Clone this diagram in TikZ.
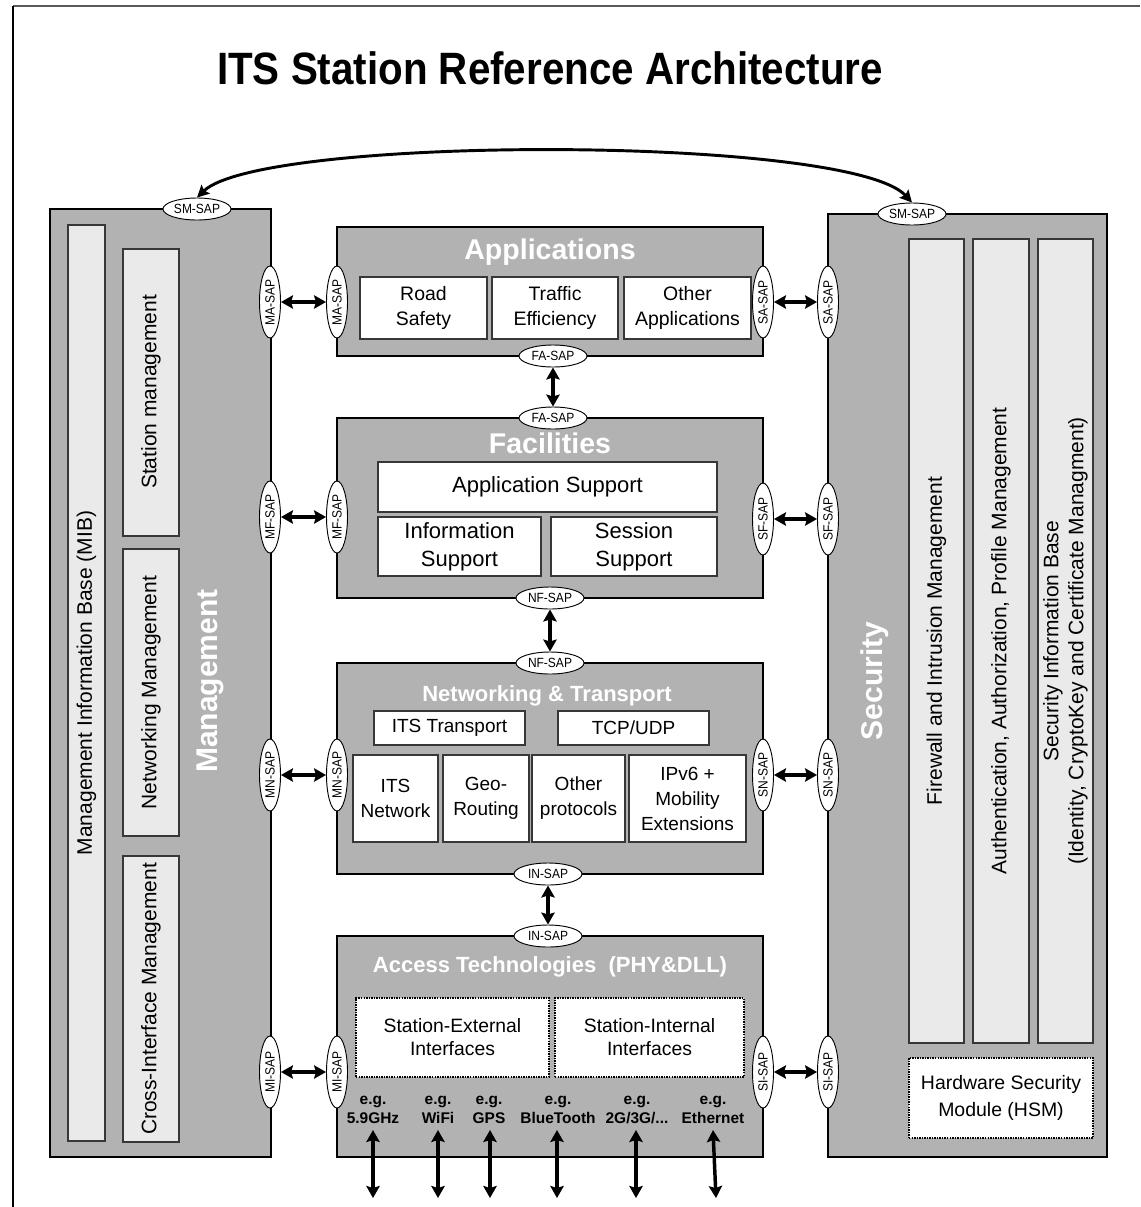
\documentclass[tikz,border=0pt]{standalone}
\usepackage{fontspec}
\setmainfont{Liberation Sans}
\usetikzlibrary{arrows.meta,shapes.geometric}
\definecolor{boxgray}{RGB}{178,178,178}
\definecolor{bargray}{RGB}{234,234,234}
\definecolor{edgegray}{RGB}{55,55,55}
\tikzset{
  rectat/.style n args={4}{minimum width={(#3-#1)*0.75pt}, minimum height={(#4-#2)*0.75pt}, at={({(#1+#3)/2},{(#2+#4)/2})}},
  layer/.style={draw=black, line width=1.8pt, fill=boxgray, inner sep=0pt},
  bar/.style={draw=edgegray, line width=0.8pt, fill=bargray, inner sep=0pt},
  wbox/.style={draw=edgegray, line width=0.9pt, fill=white, inner sep=0pt, align=center},
  dbox/.style={draw=black, line width=1.6pt, dash pattern=on 1.1pt off 0.8pt, fill=white, inner sep=0pt, align=center},
  sap/.style={ellipse, draw=black, line width=0.7pt, fill=white, inner sep=0pt, minimum width=51pt, minimum height=16.5pt, font=\fontsize{10}{11}\selectfont},
  vsap/.style={sap, rotate=90, minimum width=54pt, minimum height=15.75pt},
  dbl/.style={{Stealth[length=9pt,width=10pt,inset=1.5pt]}-{Stealth[length=9pt,width=10pt,inset=1.5pt]}, line width=2.6pt},
  curvearrow/.style={{Stealth[length=9pt,width=9pt,inset=1.5pt]}-{Stealth[length=9pt,width=9pt,inset=1.5pt]}, line width=2.2pt},
  bigtitle/.style={text=white, font=\fontsize{21.4}{24}\selectfont\bfseries},
  midtitle/.style={text=white, font=\fontsize{16.5}{19}\selectfont\bfseries},
  sidetitle/.style={text=white, rotate=90, font=\fontsize{22.5}{25}\selectfont\bfseries},
  bartext/.style={rotate=90, align=center, font=\fontsize{15.75}{18.75}\selectfont},
  eglabel/.style={align=center, inner sep=0pt, font=\fontsize{11.6}{14.25}\selectfont\bfseries},
}
\newcommand{\sapt}[1]{\scalebox{0.9}[1]{#1}}
\begin{document}
\begin{tikzpicture}[x=0.75pt,y=-0.75pt]
\useasboundingbox (0,0) rectangle (1140,1207);
% frame
\coordinate (fa) at (13,6);
\coordinate (fb) at (1140,6);
\coordinate (fc) at (13,1207);
\draw[line width=1.2pt, draw=black!65] (fa) -- (fb);
\draw[line width=1.2pt] (fa) -- (fc);

% title
\node[font=\fontsize{34}{36}\selectfont\bfseries] (title) at (550,68) {\scalebox{0.89}[1]{ITS Station Reference Architecture}};

% Management column
\node[layer, rectat={50}{209}{271}{1157}] (mgmt) {};
\node[bar, rectat={68}{225}{105}{1141}] (mib) {};
\node[bar, rectat={123}{249}{179}{536}] (stm) {};
\node[bar, rectat={123}{549}{179}{836}] (nem) {};
\node[bar, rectat={123}{856}{179}{1142}] (cim) {};
\node[bartext] (mibt) at (mib.center) {Management Information Base (MIB)};
\node[bartext] (stmt) at (151,392) {Station management};
\node[bartext] (nemt) at (nem.center) {Networking Management};
\node[bartext] (cimt) at (cim.center) {Cross-Interface Management};
\node[sidetitle] (mgmtt) at (210,681) {Management};

% Security column
\node[layer, rectat={828}{214}{1107}{1157}] (sec) {};
\node[bar, rectat={909}{239}{964}{1043}] (fw) {};
\node[bar, rectat={973}{239}{1029}{1043}] (aut) {};
\node[bar, rectat={1038}{239}{1093}{1043}] (sib) {};
\node[bartext] (fwt) at (fw.center) {Firewall and Intrusion Management};
\node[bartext] (autt) at (aut.center) {Authentication, Authorization, Profile Management};
\node[bartext] (sibt) at (sib.center) {Security Information Base\\(Identity, CryptoKey and Certificate Managment)};
\node[dbox, rectat={909}{1058}{1093}{1138}, font=\fontsize{14.6}{20}\selectfont] (hsm) {Hardware Security\\Module (HSM)};
\node[sidetitle] (sect) at (875,681) {Security};

% Applications
\node[layer, rectat={337}{227}{763}{356}] (apps) {};
\node[bigtitle] (appst) at (550,252) {Applications};
\begin{scope}[every node/.append style={font=\fontsize{14.6}{18.75}\selectfont}]
\node[wbox, rectat={360}{277}{487}{339}] (rs) {Road\\Safety};
\node[wbox, rectat={492}{277}{618}{339}] (te) {Traffic\\Efficiency};
\node[wbox, rectat={624}{277}{751}{339}] (oa) {Other\\Applications};
\end{scope}

% Facilities
\node[layer, rectat={337}{418}{763}{598}] (fac) {};
\node[bigtitle] (fact) at (550,443) {Facilities};
\begin{scope}[every node/.append style={font=\fontsize{16.5}{21}\selectfont}]
\node[wbox, rectat={378}{462}{717}{512}] (as) {Application Support};
\node[wbox, rectat={378}{517}{541}{576}] (is) {Information\\Support};
\node[wbox, rectat={551}{517}{717}{576}] (ss) {Session\\Support};
\end{scope}

% Networking & Transport
\node[layer, rectat={337}{663}{763}{874}] (net) {};
\node[midtitle] (nett) at (547,696) {Networking \& Transport};
\begin{scope}[every node/.append style={font=\fontsize{14.25}{18.75}\selectfont}]
\node[wbox, rectat={374}{711}{525}{745}] (itst) {ITS Transport};
\node[wbox, rectat={558}{711}{709}{745}] (tcp) {TCP/UDP};
\node[wbox, rectat={353}{755}{438}{842}] (itsn) {ITS\\Network};
\node[wbox, rectat={443}{755}{529}{842}] (geo) {Geo-\\Routing};
\node[wbox, rectat={532}{755}{625}{842}] (op) {Other\\protocols};
\node[wbox, rectat={629}{755}{746}{842}] (ipv6) {IPv6 +\\Mobility\\Extensions};
\end{scope}

% Access Technologies
\node[layer, rectat={337}{936}{763}{1157}] (acc) {};
\node[midtitle] (acct) at (550,967) {Access Technologies\ \ (PHY\&DLL)};
\begin{scope}[every node/.append style={font=\fontsize{14.5}{17.25}\selectfont}]
\node[dbox, rectat={356}{998}{549}{1077}] (sext) {Station-External\\Interfaces};
\node[dbox, rectat={555}{998}{744}{1077}] (sint) {Station-Internal\\Interfaces};
\end{scope}
\node[eglabel] (eg1) at (373,1110) {e.g.\\5.9GHz};
\node[eglabel] (eg2) at (438,1110) {e.g.\\WiFi};
\node[eglabel] (eg3) at (489,1110) {e.g.\\GPS};
\node[eglabel] (eg4) at (558,1110) {e.g.\\BlueTooth};
\node[eglabel] (eg5) at (637,1110) {e.g.\\2G/3G/...};
\node[eglabel] (eg6) at (713,1110) {e.g.\\Ethernet};
\coordinate (b1) at (373,1198);
\coordinate (b2) at (438,1198);
\coordinate (b3) at (490,1198);
\coordinate (b4) at (557,1198);
\coordinate (b5) at (636,1198);
\coordinate (b6) at (716,1198);
\coordinate (a1) at (373,1130);
\coordinate (a2) at (438,1130);
\coordinate (a3) at (490,1130);
\coordinate (a4) at (557,1130);
\coordinate (a5) at (636,1130);
\coordinate (a6) at (713,1130);
\foreach \i in {1,...,6} {\draw[dbl] (a\i) -- (b\i);}

% SAPs
\node[sap] (smM) at (197,209) {\sapt{SM-SAP}};
\node[sap] (smS) at (912,214) {\sapt{SM-SAP}};
\node[vsap] (maL) at (270,302) {\sapt{MA-SAP}};
\node[vsap] (maR) at (337,302) {\sapt{MA-SAP}};
\node[vsap] (mfL) at (270,517) {\sapt{MF-SAP}};
\node[vsap] (mfR) at (337,517) {\sapt{MF-SAP}};
\node[vsap] (mnL) at (270,775) {\sapt{MN-SAP}};
\node[vsap] (mnR) at (337,775) {\sapt{MN-SAP}};
\node[vsap] (miL) at (270,1072) {\sapt{MI-SAP}};
\node[vsap] (miR) at (337,1072) {\sapt{MI-SAP}};
\node[vsap] (saL) at (763,302) {\sapt{SA-SAP}};
\node[vsap] (saR) at (828,302) {\sapt{SA-SAP}};
\node[vsap] (sfL) at (763,519) {\sapt{SF-SAP}};
\node[vsap] (sfR) at (828,519) {\sapt{SF-SAP}};
\node[vsap] (snL) at (763,775) {\sapt{SN-SAP}};
\node[vsap] (snR) at (828,775) {\sapt{SN-SAP}};
\node[vsap] (siL) at (763,1072) {\sapt{SI-SAP}};
\node[vsap] (siR) at (828,1072) {\sapt{SI-SAP}};
\node[sap] (faA) at (553,356) {\sapt{FA-SAP}};
\node[sap] (faF) at (553,418) {\sapt{FA-SAP}};
\node[sap] (nfF) at (550,598) {\sapt{NF-SAP}};
\node[sap] (nfN) at (550,663) {\sapt{NF-SAP}};
\node[sap] (inN) at (548,874) {\sapt{IN-SAP}};
\node[sap] (inA) at (548,936) {\sapt{IN-SAP}};

% connectors
\draw[dbl] (maL) -- (maR);
\draw[dbl] (mfL) -- (mfR);
\draw[dbl] (mnL) -- (mnR);
\draw[dbl] (miL) -- (miR);
\draw[dbl] (saL) -- (saR);
\draw[dbl] (sfL) -- (sfR);
\draw[dbl] (snL) -- (snR);
\draw[dbl] (siL) -- (siR);
\draw[dbl] (faA) -- (faF);
\draw[dbl] (nfF) -- (nfN);
\draw[dbl] (inN) -- (inA);
\draw[curvearrow] (smM.north) .. controls (262,135) and (850,135) .. (smS.north);
\end{tikzpicture}
\end{document}
